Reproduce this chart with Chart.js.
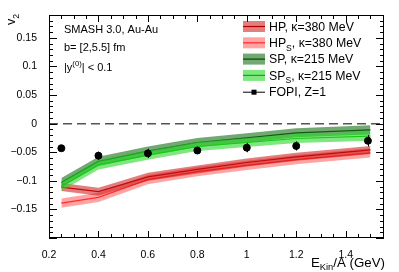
<!DOCTYPE html>
<html>
<head>
<meta charset="utf-8">
<script src="https://cdn.jsdelivr.net/npm/chart.js@4.4.0/dist/chart.umd.min.js"></script>
<style>
    html, body { margin: 0; padding: 0; background: #fff; }
    #wrap { width: 399px; height: 272px; }
</style>
</head>
<body>
<div id="wrap"><canvas id="v2Chart"></canvas></div>
<script>
// beam energies (GeV per nucleon)
const energies = [0.25, 0.4, 0.6, 0.8, 1.0, 1.2, 1.5];

// HP, kappa = 380 MeV
const hpMid  = [-0.111, -0.119, -0.093, -0.080, -0.068, -0.058, -0.046];
const hpLow  = [-0.118, -0.126, -0.100, -0.087, -0.075, -0.065, -0.053];
const hpHigh = [-0.104, -0.112, -0.086, -0.073, -0.061, -0.051, -0.039];

// HP_S, kappa = 380 MeV
const hpsMid  = [-0.139, -0.129, -0.098, -0.084, -0.073, -0.063, -0.051];
const hpsLow  = [-0.147, -0.137, -0.106, -0.092, -0.081, -0.071, -0.059];
const hpsHigh = [-0.131, -0.121, -0.090, -0.076, -0.065, -0.055, -0.043];

// SP, kappa = 215 MeV
const spMid  = [-0.103, -0.066, -0.048, -0.033, -0.025, -0.016, -0.011];
const spLow  = [-0.111, -0.074, -0.056, -0.041, -0.033, -0.024, -0.019];
const spHigh = [-0.095, -0.058, -0.040, -0.025, -0.017, -0.008, -0.003];

// SP_S, kappa = 215 MeV
const spsMid  = [-0.110, -0.072, -0.055, -0.040, -0.033, -0.026, -0.022];
const spsLow  = [-0.118, -0.080, -0.063, -0.048, -0.041, -0.034, -0.030];
const spsHigh = [-0.102, -0.064, -0.047, -0.032, -0.025, -0.018, -0.014];

// FOPI, Z=1
const fopiE   = [0.25, 0.4, 0.6, 0.8, 1.0, 1.2, 1.49];
const fopiV2  = [-0.043, -0.056, -0.052, -0.047, -0.042, -0.039, -0.030];
const fopiErr = [0.004, 0.007, 0.008, 0.006, 0.008, 0.008, 0.010];

// dashed zero line
const zeroE  = [0.2, 1.555];
const zeroV2 = [0, 0];

// axis ticks
const xTickValues = [0.2, 0.4, 0.6, 0.8, 1.0, 1.2, 1.4];
const xTickLabels = ['0.2', '0.4', '0.6', '0.8', '1', '1.2', '1.4'];
const yTickValues = [-0.15, -0.1, -0.05, 0, 0.05, 0.1, 0.15];
const yTickLabels = ['\u22120.15', '\u22120.1', '\u22120.05', '0', '0.05', '0.1', '0.15'];

const FONT = '"Liberation Sans", Arial, Helvetica, sans-serif';

function pts(xs, ys) {
    return xs.map((x, i) => ({ x: x, y: ys[i] }));
}

// upper edge fills down to the next dataset (lower edge), then the centre line
function band(hi, lo, mid, c, order) {
    return [
        { data: pts(energies, hi), borderWidth: 0, pointRadius: 0, fill: '+1', backgroundColor: c.fill, tension: 0, order: order },
        { data: pts(energies, lo), borderWidth: 0, pointRadius: 0, fill: false, tension: 0, order: order },
        { data: pts(energies, mid), borderWidth: 1.2, borderColor: c.line, pointRadius: 0, fill: false, tension: 0, order: order }
    ];
}

const colors = {
    hp:  { fill: 'rgba(205, 20, 20, 0.55)', line: '#b00000' },
    hps: { fill: 'rgba(255, 50, 50, 0.45)', line: '#ff2a2a' },
    sp:  { fill: 'rgba(20, 110, 20, 0.6)', line: '#004a00' },
    sps: { fill: 'rgba(40, 215, 40, 0.6)', line: '#00b400' }
};

// draws text pieces with sub/superscripts, returns width
function richText(ctx, parts, x, y, size, measureOnly) {
    let cx = x;
    parts.forEach(p => {
        const s = p.sub || p.sup ? size * 0.7 : size;
        ctx.font = s + 'px ' + FONT;
        const dy = p.sub ? size * 0.28 : (p.sup ? -size * 0.42 : 0);
        if (!measureOnly) ctx.fillText(p.t, cx, y + dy);
        cx += ctx.measureText(p.t).width;
    });
    return cx - x;
}

const decorPlugin = {
    id: 'decor',
    afterDatasetsDraw(chart) {
        const ctx = chart.ctx;
        const xs = chart.scales.x, ys = chart.scales.y;
        // error bars for FOPI
        ctx.save();
        ctx.strokeStyle = '#000';
        ctx.lineWidth = 1;
        fopiE.forEach((e, i) => {
            const px = Math.round(xs.getPixelForValue(e)) + 0.5;
            ctx.beginPath();
            ctx.moveTo(px, ys.getPixelForValue(fopiV2[i] - fopiErr[i]));
            ctx.lineTo(px, ys.getPixelForValue(fopiV2[i] + fopiErr[i]));
            ctx.stroke();
        });
        ctx.restore();
    },
    afterDraw(chart) {
        const ctx = chart.ctx;
        const a = chart.chartArea;
        const xs = chart.scales.x, ys = chart.scales.y;
        ctx.save();
        // frame
        ctx.strokeStyle = '#000';
        ctx.lineWidth = 1;
        ctx.strokeRect(a.left + 0.5, a.top + 0.5, a.right - a.left - 1, a.bottom - a.top - 1);

        // inside ticks
        ctx.beginPath();
        for (let k = 0; k <= 27; k++) {
            const v = 0.2 + k * 0.05;
            if (v > xs.max + 1e-9) break;
            const major = k % 4 === 0;
            const len = major ? 7 : 4;
            const px = Math.round(xs.getPixelForValue(v)) + 0.5;
            ctx.moveTo(px, a.bottom); ctx.lineTo(px, a.bottom - len);
            ctx.moveTo(px, a.top); ctx.lineTo(px, a.top + len);
        }
        for (let k = 0; k <= 40; k++) {
            const v = -0.2 + k * 0.01;
            if (v > ys.max + 1e-9) break;
            const major = k % 5 === 0;
            const len = major ? 8 : 4;
            const py = Math.round(ys.getPixelForValue(v)) + 0.5;
            ctx.moveTo(a.left, py); ctx.lineTo(a.left + len, py);
            ctx.moveTo(a.right, py); ctx.lineTo(a.right - len, py);
        }
        ctx.stroke();

        ctx.fillStyle = '#000';
        ctx.textBaseline = 'alphabetic';
        ctx.textAlign = 'left';

        // annotations
        const fs = 11;
        richText(ctx, [{ t: 'SMASH 3.0, Au-Au' }], 64, 33, fs);
        richText(ctx, [{ t: 'b= [2,5.5] fm' }], 64, 51, fs);
        richText(ctx, [{ t: '|y' }, { t: '(0)', sup: true }, { t: '| < 0.1' }], 64, 71, fs);

        // legend
        const legend = [
            { parts: [{ t: 'HP, \u03ba=380 MeV' }], c: colors.hp },
            { parts: [{ t: 'HP' }, { t: 'S', sub: true }, { t: ', \u03ba=380 MeV' }], c: colors.hps },
            { parts: [{ t: 'SP, \u03ba=215 MeV' }], c: colors.sp },
            { parts: [{ t: 'SP' }, { t: 'S', sub: true }, { t: ', \u03ba=215 MeV' }], c: colors.sps },
            { parts: [{ t: 'FOPI, Z=1' }], c: null }
        ];
        legend.forEach((item, i) => {
            const cy = 26.5 + i * 16.3;
            if (item.c) {
                ctx.fillStyle = item.c.fill;
                ctx.fillRect(243, cy - 5.5, 22, 11);
                ctx.strokeStyle = item.c.line;
                ctx.lineWidth = 1.2;
                ctx.beginPath();
                ctx.moveTo(243, cy); ctx.lineTo(265, cy);
                ctx.stroke();
            } else {
                ctx.strokeStyle = '#000';
                ctx.lineWidth = 1;
                ctx.beginPath();
                ctx.moveTo(243, cy + 0.5); ctx.lineTo(265, cy + 0.5);
                ctx.stroke();
                ctx.fillStyle = '#000';
                ctx.fillRect(251.5, cy - 2, 5, 5);
            }
            ctx.fillStyle = '#000';
            richText(ctx, item.parts, 269, cy + 4.3, 12.3);
        });

        // y title
        ctx.save();
        ctx.translate(15, 25);
        ctx.rotate(-Math.PI / 2);
        richText(ctx, [{ t: 'v' }, { t: '2', sub: true }], 0, 0, 12.5);
        ctx.restore();

        // x title, right aligned
        const xt = [{ t: 'E' }, { t: 'Kin', sub: true }, { t: '/A (GeV)' }];
        const w = richText(ctx, xt, 0, 0, 13.3, true);
        richText(ctx, xt, 385 - w, 266.5, 13.3);
        ctx.restore();
    }
};

new Chart(document.querySelector('#v2Chart'), {
    type: 'line',
    data: {
        datasets: [
            ...band(hpsHigh, hpsLow, hpsMid, colors.hps, 5),
            ...band(hpHigh, hpLow, hpMid, colors.hp, 4),
            ...band(spHigh, spLow, spMid, colors.sp, 3),
            ...band(spsHigh, spsLow, spsMid, colors.sps, 2),
            {
                data: pts(zeroE, zeroV2),
                borderColor: '#555',
                borderWidth: 1.5,
                borderDash: [9, 5],
                pointRadius: 0,
                fill: false,
                order: 1
            },
            {
                data: pts(fopiE, fopiV2),
                showLine: false,
                pointRadius: 3.5,
                pointStyle: 'circle',
                pointBackgroundColor: '#000',
                pointBorderColor: '#000',
                fill: false,
                order: 0
            }
        ]
    },
    options: {
        responsive: true,
        maintainAspectRatio: false,
        animation: false,
        layout: { padding: { top: 15, right: 15, left: 0, bottom: 0 } },
        plugins: {
            legend: { display: false },
            tooltip: { enabled: false }
        },
        scales: {
            x: {
                type: 'linear',
                min: 0.2,
                max: 1.555,
                grid: { display: false },
                border: { display: false },
                afterBuildTicks: s => { s.ticks = xTickValues.map(v => ({ value: v })); },
                afterFit: s => { s.height = 34; },
                ticks: {
                    autoSkip: false,
                    maxRotation: 0,
                    padding: 3,
                    color: '#000',
                    font: { family: FONT, size: 10.5 },
                    callback: (v, i) => xTickLabels[i]
                }
            },
            y: {
                type: 'linear',
                min: -0.2,
                max: 0.19,
                grid: { display: false },
                border: { display: false },
                afterBuildTicks: s => { s.ticks = yTickValues.map(v => ({ value: v })); },
                afterFit: s => { s.width = 49; },
                ticks: {
                    autoSkip: false,
                    padding: 4,
                    color: '#000',
                    font: { family: FONT, size: 10.5 },
                    callback: (v, i) => yTickLabels[i]
                }
            }
        }
    },
    plugins: [decorPlugin]
});
</script>
</body>
</html>
